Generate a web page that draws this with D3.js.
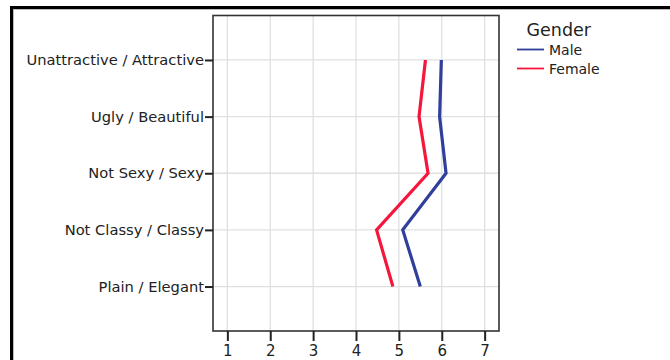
<!DOCTYPE html>
<html>
<head>
<meta charset="utf-8">
<script src="https://cdn.jsdelivr.net/npm/d3@7"></script>
<style>
  html, body { margin: 0; padding: 0; background: #fff; }
  svg { display: block; }
  text { font-family: "DejaVu Sans", sans-serif; fill: #222; }
</style>
</head>
<body>
<svg id="chart" width="670" height="360"></svg>
<script>
// Semantic differential scales, top to bottom
const categories = [
  "Unattractive / Attractive",
  "Ugly / Beautiful",
  "Not Sexy / Sexy",
  "Not Classy / Classy",
  "Plain / Elegant"
];
// Mean ratings (1–7) per scale
const maleValues   = [5.99, 5.95, 6.10, 5.09, 5.50];
const femaleValues = [5.62, 5.47, 5.68, 4.48, 4.86];
const seriesNames  = ["Male", "Female"];
const xTicks       = [1, 2, 3, 4, 5, 6, 7];
const legendTitle  = "Gender";

const colors = { Male: "#2f3f9b", Female: "#f5163c" };
const series = [
  { name: seriesNames[0], values: maleValues },
  { name: seriesNames[1], values: femaleValues }
];

const svg = d3.select("#chart");

// Outer panel border (thick black top/left with a faint shadow line)
svg.append("line").attr("x1", 10).attr("x2", 670).attr("y1", 9.5).attr("y2", 9.5)
  .attr("stroke", "#bbb").attr("stroke-width", 1);
svg.append("line").attr("x1", 13.5).attr("x2", 13.5).attr("y1", 9).attr("y2", 360)
  .attr("stroke", "#bbb").attr("stroke-width", 1);
svg.append("line").attr("x1", 10).attr("x2", 670).attr("y1", 7.5).attr("y2", 7.5)
  .attr("stroke", "#000").attr("stroke-width", 3);
svg.append("line").attr("x1", 11.5).attr("x2", 11.5).attr("y1", 6).attr("y2", 360)
  .attr("stroke", "#000").attr("stroke-width", 3);

// Plot frame
const frame = { left: 213, right: 499, top: 15.5, bottom: 331 };

const x = d3.scaleLinear()
  .domain([0.665, 7.335])
  .range([frame.left, frame.right]);

const y = d3.scalePoint()
  .domain(categories)
  .range([frame.top, frame.bottom])
  .padding(0.785);

const g = svg.append("g");

// Gridlines
g.append("g").selectAll("line").data(xTicks).join("line")
  .attr("x1", d => x(d)).attr("x2", d => x(d))
  .attr("y1", frame.top).attr("y2", frame.bottom)
  .attr("stroke", "#e0e0e0").attr("stroke-width", 1.3);
g.append("g").selectAll("line").data(categories).join("line")
  .attr("x1", frame.left).attr("x2", frame.right)
  .attr("y1", d => y(d)).attr("y2", d => y(d))
  .attr("stroke", "#e0e0e0").attr("stroke-width", 1.3);

// Series lines
const line = d3.line()
  .x(d => x(d.v))
  .y(d => y(d.c));

g.append("g").selectAll("path").data(series).join("path")
  .attr("d", s => line(s.values.map((v, i) => ({ v, c: categories[i] }))))
  .attr("fill", "none")
  .attr("stroke", s => colors[s.name])
  .attr("stroke-width", 3.2)
  .attr("stroke-linejoin", "miter");

// Frame rectangle
g.append("rect")
  .attr("x", frame.left).attr("y", frame.top)
  .attr("width", frame.right - frame.left)
  .attr("height", frame.bottom - frame.top)
  .attr("fill", "none").attr("stroke", "#333").attr("stroke-width", 1.6);

// Axes
const xAxis = d3.axisBottom(x).tickValues(xTicks).tickSize(10).tickPadding(4).tickFormat(d3.format("d"));
const xg = svg.append("g").attr("transform", `translate(0,${frame.bottom})`).call(xAxis);
xg.select(".domain").remove();
xg.selectAll(".tick line").attr("stroke", "#222").attr("stroke-width", 2);
xg.selectAll(".tick text").attr("font-size", 15).attr("font-family", "DejaVu Sans").attr("fill", "#222");

const yAxis = d3.axisLeft(y).tickSize(8).tickPadding(1);
const yg = svg.append("g").attr("transform", `translate(${frame.left},0)`).call(yAxis);
yg.select(".domain").remove();
yg.selectAll(".tick line").attr("stroke", "#222").attr("stroke-width", 2);
yg.selectAll(".tick text").attr("font-size", 14.7).attr("font-family", "DejaVu Sans").attr("fill", "#222");

// Legend
const legend = svg.append("g");
legend.append("text")
  .attr("x", 526.5).attr("y", 35.5)
  .attr("font-size", 17.5)
  .text(legendTitle);
const items = legend.selectAll("g.item").data(series).join("g")
  .attr("class", "item")
  .attr("transform", (d, i) => `translate(0,${49.5 + i * 19})`);
items.append("line")
  .attr("x1", 517).attr("x2", 544)
  .attr("stroke", d => colors[d.name]).attr("stroke-width", 1.8);
items.append("text")
  .attr("x", 549).attr("y", 0).attr("dy", "0.36em")
  .attr("font-size", 14)
  .text(d => d.name);
</script>
</body>
</html>
